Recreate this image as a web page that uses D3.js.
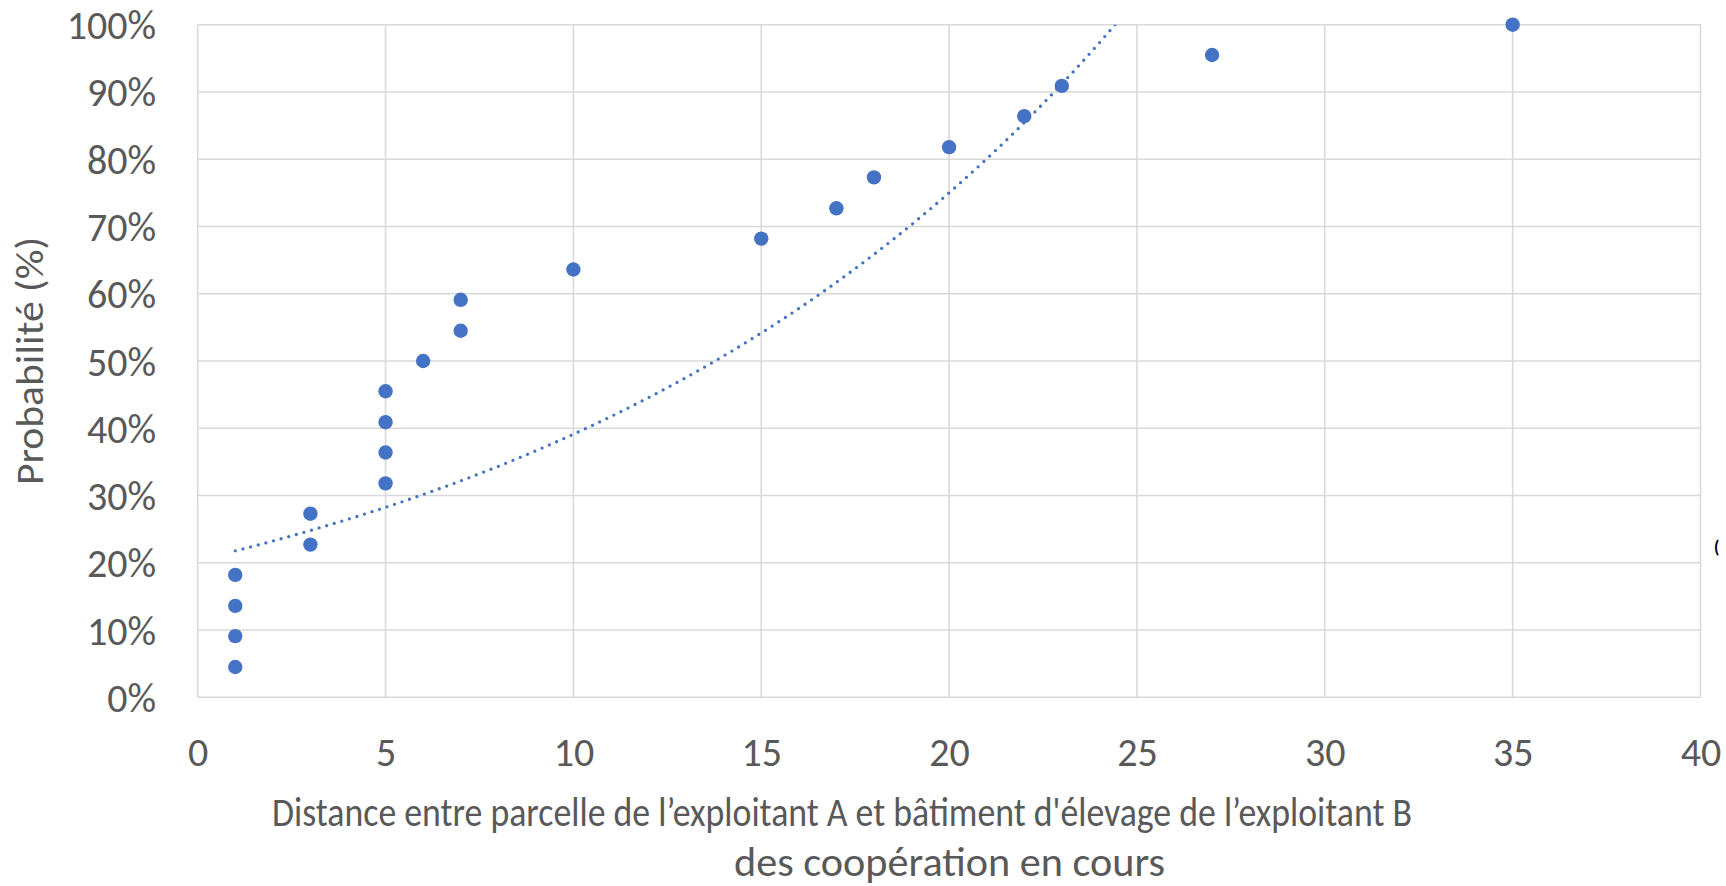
<!DOCTYPE html>
<html>
<head>
<meta charset="utf-8">
<script src="https://cdn.jsdelivr.net/npm/d3@7"></script>
<style>
  body { margin: 0; background: #fff; }
  text { font-family: Calibri, Carlito, Lato, sans-serif; fill: #595959; }
</style>
</head>
<body>
<div id="chart"></div>
<script>
// data
const distance = [1, 1, 1, 1, 3, 3, 5, 5, 5, 5, 6, 7, 7, 10, 15, 17, 18, 20, 22, 23, 27, 35];
const probability = [0.045, 0.091, 0.136, 0.182, 0.227, 0.273, 0.318, 0.364, 0.409, 0.455, 0.5,
  0.545, 0.591, 0.636, 0.682, 0.727, 0.773, 0.818, 0.864, 0.909, 0.955, 1.0];
const xTicks = [0, 5, 10, 15, 20, 25, 30, 35, 40];
const yTicks = [0, 0.1, 0.2, 0.3, 0.4, 0.5, 0.6, 0.7, 0.8, 0.9, 1.0];
const xTitle = ["Distance entre parcelle de l\u2019exploitant A et b\u00e2timent d'\u00e9levage de l\u2019exploitant B",
  "des coop\u00e9ration en cours"];
const yTitle = "Probabilit\u00e9 (%)";

const width = 1726;
const height = 886;
const plot = {left: 197.7, right: 1700.5, top: 24.7, bottom: 697.3};
const blue = "#4472C4";
const grid = "#d9d9d9";

const x = d3.scaleLinear().domain([0, 40]).range([plot.left, plot.right]);
const y = d3.scaleLinear().domain([0, 1]).range([plot.bottom, plot.top]);

const svg = d3.select("#chart")
  .append("svg")
  .attr("width", width)
  .attr("height", height);

svg.append("defs").append("clipPath")
  .attr("id", "plotClip")
  .append("rect")
  .attr("x", plot.left)
  .attr("y", plot.top)
  .attr("width", plot.right - plot.left)
  .attr("height", plot.bottom - plot.top);

// gridlines
svg.append("g")
  .selectAll("line")
  .data(yTicks)
  .join("line")
  .attr("x1", plot.left)
  .attr("x2", plot.right)
  .attr("y1", d => y(d))
  .attr("y2", d => y(d))
  .attr("stroke", grid)
  .attr("stroke-width", 1.6);

svg.append("g")
  .selectAll("line")
  .data(xTicks)
  .join("line")
  .attr("x1", d => x(d))
  .attr("x2", d => x(d))
  .attr("y1", plot.top)
  .attr("y2", plot.bottom)
  .attr("stroke", grid)
  .attr("stroke-width", 1.6);

// axes (labels only)
const xAxis = svg.append("g")
  .attr("transform", "translate(0," + plot.bottom + ")")
  .call(d3.axisBottom(x).tickValues(xTicks).tickSize(0).tickFormat(d3.format("d")));
xAxis.select(".domain").remove();
xAxis.selectAll("text")
  .attr("y", 69)
  .attr("dy", null)
  .attr("fill", "#595959")
  .style("font-size", "40px");

const yAxis = svg.append("g")
  .attr("transform", "translate(" + plot.left + ",0)")
  .call(d3.axisLeft(y).tickValues(yTicks).tickSize(0).tickPadding(41.5).tickFormat(d3.format(".0%")));
yAxis.select(".domain").remove();
yAxis.selectAll("text")
  .attr("dy", null)
  .attr("y", 14)
  .attr("fill", "#595959")
  .style("font-size", "40px");

// exponential trendline, least squares on ln(y)
const n = distance.length;
const lnY = probability.map(v => Math.log(v));
const mx = d3.mean(distance);
const my = d3.mean(lnY);
let sxy = 0, sxx = 0;
for (let i = 0; i < n; i++) {
  sxy += (distance[i] - mx) * (lnY[i] - my);
  sxx += (distance[i] - mx) * (distance[i] - mx);
}
const b = sxy / sxx;
const a = Math.exp(my - b * mx);
const xs = d3.range(d3.min(distance), d3.max(distance) + 0.001, 0.1);

svg.append("path")
  .datum(xs)
  .attr("clip-path", "url(#plotClip)")
  .attr("fill", "none")
  .attr("stroke", blue)
  .attr("stroke-width", 3.3)
  .attr("stroke-linecap", "round")
  .attr("stroke-dasharray", "0 7.9")
  .attr("d", d3.line().x(d => x(d)).y(d => y(a * Math.exp(b * d))));

// points
svg.append("g")
  .selectAll("circle")
  .data(distance)
  .join("circle")
  .attr("cx", d => x(d))
  .attr("cy", (d, i) => y(probability[i]))
  .attr("r", 7.2)
  .attr("fill", blue);

// titles
svg.append("text")
  .attr("text-anchor", "middle")
  .attr("transform", "translate(43,361) rotate(-90)")
  .attr("textLength", 248)
  .attr("lengthAdjust", "spacingAndGlyphs")
  .style("font-size", "39px")
  .text(yTitle);

svg.append("text")
  .attr("x", 272)
  .attr("y", 826)
  .attr("textLength", 1140)
  .attr("lengthAdjust", "spacingAndGlyphs")
  .style("font-size", "40px")
  .text(xTitle[0]);

svg.append("text")
  .attr("x", 734)
  .attr("y", 876)
  .attr("textLength", 431)
  .attr("lengthAdjust", "spacingAndGlyphs")
  .style("font-size", "40px")
  .text(xTitle[1]);

// stray glyph at the right edge
svg.append("text")
  .attr("x", 1714)
  .attr("y", 553)
  .style("fill", "#000")
  .style("font-weight", "bold")
  .style("font-size", "17px")
  .text("(");
</script>
</body>
</html>
